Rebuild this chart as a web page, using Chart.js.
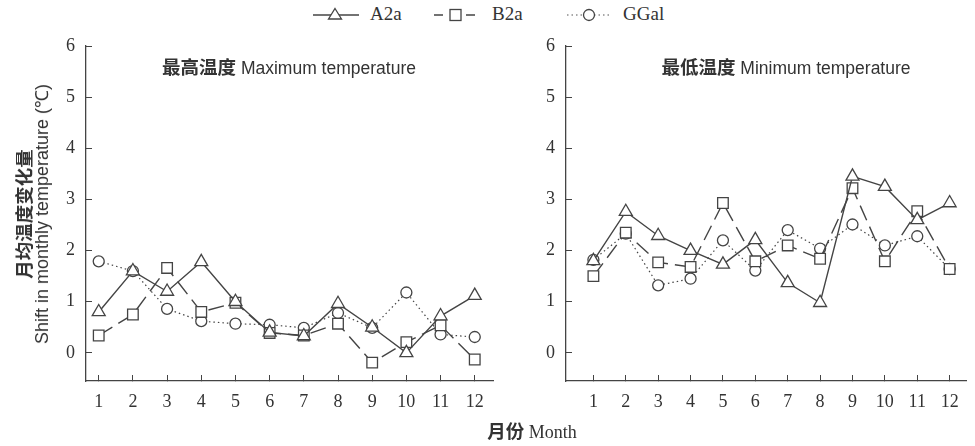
<!DOCTYPE html>
<html>
<head>
<meta charset="utf-8">
<script src="https://cdn.jsdelivr.net/npm/chart.js@4.4.0/dist/chart.umd.min.js"></script>
<style>
  body { margin: 0; background: #fff; width: 975px; height: 446px; position: relative; overflow: hidden; color: #333; }
  canvas { position: absolute; top: 0; }
  #maxChart { left: 0; }
  #minChart { left: 502px; }
  .panelTitle { position: absolute; top: 66px; transform: translate(-50%, -50%); white-space: nowrap; font-family: "Liberation Sans", sans-serif; font-size: 17.5px; }
  .zh { font-family: "Noto Sans CJK SC", sans-serif; font-weight: bold; font-size: 18.5px; }
  #yTitle { position: absolute; left: 33px; top: 214px; transform: translate(-50%, -50%) rotate(-90deg); white-space: nowrap; text-align: center; line-height: 19px; }
  #yTitle .en { font-family: "Liberation Sans", sans-serif; font-size: 18px; }
  #xTitle { position: absolute; left: 532px; top: 430px; transform: translate(-50%, -50%); white-space: nowrap; font-family: "Liberation Serif", serif; font-size: 18px; }
  .lg { position: absolute; top: 5px; }
  .lgText { position: absolute; top: 3px; font-family: "Liberation Serif", serif; font-size: 19px; line-height: 22px; }
</style>
</head>
<body>
<svg class="lg" style="left:313px" width="46" height="20"><line x1="0" y1="10" x2="46" y2="10" stroke="#444" stroke-width="1.4"/><polygon points="22,3.5 28.5,14 15.5,14" fill="#fff" stroke="#444" stroke-width="1.3"/></svg>
<span class="lgText" style="left:370px">A2a</span>
<svg class="lg" style="left:434px" width="44" height="20"><line x1="0" y1="10" x2="44" y2="10" stroke="#444" stroke-width="1.4" stroke-dasharray="9,7"/><rect x="16" y="4.5" width="11" height="11" fill="#fff" stroke="#444" stroke-width="1.3"/></svg>
<span class="lgText" style="left:492px">B2a</span>
<svg class="lg" style="left:567px" width="44" height="20"><line x1="0" y1="10" x2="44" y2="10" stroke="#555" stroke-width="1.2" stroke-dasharray="1.5,3"/><circle cx="22" cy="10" r="5.5" fill="#fff" stroke="#444" stroke-width="1.3"/></svg>
<span class="lgText" style="left:623px">GGal</span>

<canvas id="maxChart" width="502" height="420"></canvas>
<canvas id="minChart" width="473" height="420"></canvas>

<div class="panelTitle" style="left:289px"><span class="zh">最高温度</span> Maximum temperature</div>
<div class="panelTitle" style="left:786px"><span class="zh">最低温度</span> Minimum temperature</div>
<div id="yTitle"><div class="zh">月均温度变化量</div><div class="en">Shift in monthly temperature (℃)</div></div>
<div id="xTitle"><span class="zh">月份</span> Month</div>

<script>
const months = [1, 2, 3, 4, 5, 6, 7, 8, 9, 10, 11, 12];
const seriesNames = ["A2a", "B2a", "GGal"];

// maximum temperature shift
const maxA2a = [0.8, 1.6, 1.2, 1.78, 1.0, 0.4, 0.33, 0.96, 0.5, 0.0, 0.72, 1.12];
const maxB2a = [0.34, 0.75, 1.66, 0.8, 0.98, 0.39, 0.34, 0.57, -0.19, 0.21, 0.54, -0.13];
const maxGGal = [1.79, 1.6, 0.86, 0.62, 0.57, 0.55, 0.49, 0.78, 0.49, 1.18, 0.36, 0.31];

// minimum temperature shift
const minA2a = [1.8, 2.76, 2.29, 2.0, 1.73, 2.21, 1.37, 0.98, 3.45, 3.25, 2.6, 2.93];
const minB2a = [1.5, 2.35, 1.77, 1.68, 2.93, 1.79, 2.1, 1.84, 3.22, 1.79, 2.77, 1.64];
const minGGal = [1.82, 2.33, 1.32, 1.45, 2.2, 1.61, 2.4, 2.04, 2.51, 2.1, 2.28, 1.64];

const yTicks = [0, 1, 2, 3, 4, 5, 6];

const ink = "#444";
const styles = [
  { pointStyle: "triangle", pointRadius: 7.5, borderDash: [], borderWidth: 1.4 },
  { pointStyle: "rect", pointRadius: 7.5, borderDash: [16, 7], borderWidth: 1.4 },
  { pointStyle: "circle", pointRadius: 5.5, borderDash: [1.5, 3], borderWidth: 1.2 }
];

function toPoints(vals) {
  return months.map((m, i) => ({ x: m, y: vals[i] }));
}

function makeChart(id, seriesData, xMin, xMax, axisWidth) {
  const datasets = seriesData.map((vals, i) => ({
    label: seriesNames[i],
    data: toPoints(vals),
    borderColor: ink,
    backgroundColor: "#fff",
    pointBackgroundColor: "#fff",
    pointBorderColor: ink,
    pointBorderWidth: 1.3,
    pointStyle: styles[i].pointStyle,
    pointRadius: styles[i].pointRadius,
    borderDash: styles[i].borderDash,
    borderWidth: styles[i].borderWidth,
    tension: 0
  }));

  return new Chart(document.getElementById(id), {
    type: "line",
    data: { datasets: datasets },
    options: {
      responsive: false,
      animation: false,
      clip: false,
      layout: { padding: { top: 46, left: 0, right: 0, bottom: 0 } },
      plugins: { legend: { display: false }, tooltip: { enabled: false } },
      scales: {
        x: {
          type: "linear",
          min: xMin,
          max: xMax,
          afterBuildTicks: s => { s.ticks = months.map(m => ({ value: m })); },
          afterFit: s => { s.height = 39; },
          grid: { drawOnChartArea: false, tickLength: -6, color: ink },
          border: { color: ink, width: 1.3 },
          ticks: { autoSkip: false, maxRotation: 0, padding: 16, color: "#333", font: { family: "Liberation Serif", size: 18 } }
        },
        y: {
          min: -0.55,
          max: 6,
          afterBuildTicks: s => { s.ticks = yTicks.map(v => ({ value: v })); },
          afterFit: s => { s.width = axisWidth; },
          grid: { drawOnChartArea: false, tickLength: -6, color: ink },
          border: { color: ink, width: 1.3 },
          ticks: { padding: 17, color: "#333", font: { family: "Liberation Serif", size: 18 } }
        }
      }
    }
  });
}

makeChart("maxChart", [maxA2a, maxB2a, maxGGal], 0.628, 12.54, 86);
makeChart("minChart", [minA2a, minB2a, minGGal], 0.154, 12.51, 64);
</script>
</body>
</html>
